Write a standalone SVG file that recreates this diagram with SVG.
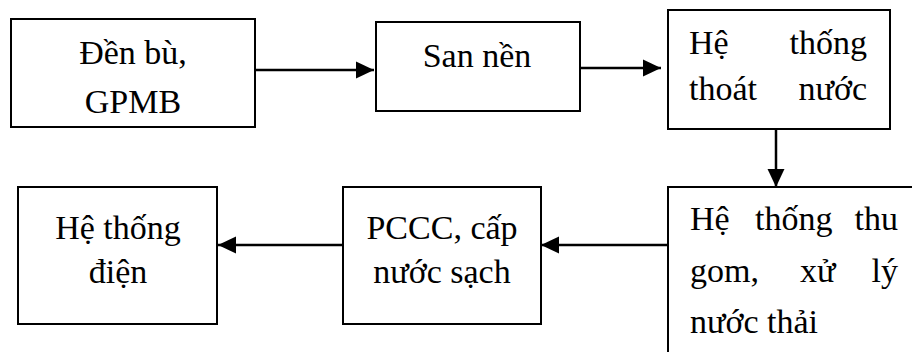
<svg xmlns="http://www.w3.org/2000/svg" width="912" height="352" viewBox="0 0 912 352">
<style>
.box{fill:#fff;stroke:#000;stroke-width:2}
.t{font-size:34px;fill:#000}
.c{text-anchor:middle}
.e{text-anchor:end}
.ln{stroke:#000;stroke-width:2.5;fill:none}
</style>
<defs>
<marker id="ah" markerUnits="userSpaceOnUse" markerWidth="18" markerHeight="18" viewBox="0 0 17 16" refX="17" refY="8" orient="auto">
<polygon points="0,0 17,8 0,16" fill="#000"/>
</marker>
</defs>
<rect width="912" height="352" fill="#fff"/>
<g id="connectors">
<line class="ln" x1="255" y1="70" x2="374" y2="70" marker-end="url(#ah)"/>
<line class="ln" x1="580" y1="68" x2="661" y2="68" marker-end="url(#ah)"/>
<line class="ln" x1="776" y1="129" x2="776" y2="187" marker-end="url(#ah)"/>
<line class="ln" x1="668" y1="245" x2="541" y2="245" marker-end="url(#ah)"/>
<line class="ln" x1="343" y1="245" x2="218" y2="245" marker-end="url(#ah)"/>
</g>
<g font-family="Liberation Serif, Times New Roman, serif">
<g id="n1">
<rect class="box" x="11" y="19" width="244" height="108"/>
<text class="t c" x="133" y="64">Đền bù,</text>
<text class="t c" x="133" y="113">GPMB</text>
</g>
<g id="n2">
<rect class="box" x="376" y="22" width="204" height="89"/>
<text class="t c" x="477" y="67">San nền</text>
</g>
<g id="n3">
<rect class="box" x="668" y="10" width="222" height="119"/>
<text class="t" x="689" y="54">Hệ</text>
<text class="t e" x="867" y="54">thống</text>
<text class="t" x="689" y="100">thoát</text>
<text class="t e" x="867" y="100">nước</text>
</g>
<g id="n6">
<rect class="box" x="668" y="187" width="270" height="200"/>
<text class="t" x="690" y="230">Hệ</text>
<text class="t" x="755" y="230">thống</text>
<text class="t e" x="898" y="230">thu</text>
<text class="t" x="690" y="282">gom,</text>
<text class="t" x="800" y="282">xử</text>
<text class="t e" x="898" y="282">lý</text>
<text class="t" x="690" y="333">nước thải</text>
</g>
<g id="n5">
<rect class="box" x="343" y="187" width="198" height="137"/>
<text class="t c" x="442" y="239">PCCC, cấp</text>
<text class="t c" x="442" y="283">nước sạch</text>
</g>
<g id="n4">
<rect class="box" x="18" y="187" width="199" height="137"/>
<text class="t c" x="118" y="239">Hệ thống</text>
<text class="t c" x="118" y="283">điện</text>
</g>
</g>
</svg>
